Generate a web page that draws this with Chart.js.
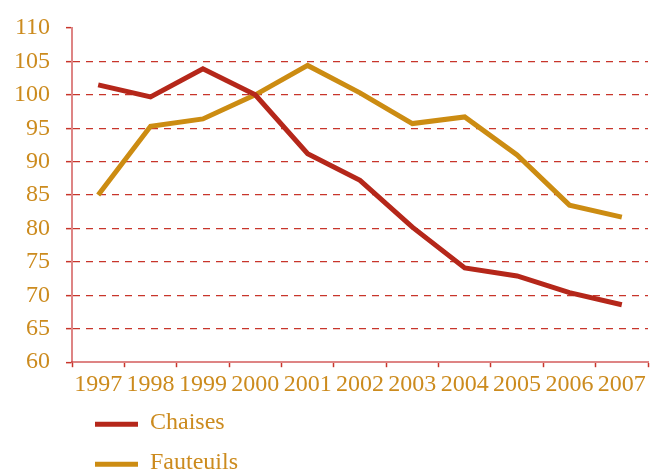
<!DOCTYPE html>
<html lang="fr">
<head>
    <meta charset="UTF-8">
    <title>Chaises et fauteuils</title>
    <script src="https://cdn.jsdelivr.net/npm/chart.js"></script>
    <style>
        html, body { margin: 0; padding: 0; background: #fff; }
        #wrap { width: 656px; height: 472px; }
    </style>
</head>
<body>
    <div id="wrap"><canvas id="chart" width="656" height="472"></canvas></div>

    <script>
        // data
        var years = ['1997', '1998', '1999', '2000', '2001', '2002', '2003', '2004', '2005', '2006', '2007'];
        var chaises = [101.5, 99.7, 103.9, 100.0, 91.2, 87.2, 80.2, 74.1, 72.9, 70.4, 68.6];
        var fauteuils = [85.0, 95.3, 96.4, 100.0, 104.4, 100.3, 95.7, 96.7, 91.0, 83.5, 81.7];
        var yMin = 60, yMax = 110, yStep = 5;

        var gold = '#cc8b1e';
        var red = '#c8352b';
        var axisRed = 'rgba(200, 50, 50, 0.6)';
        var fontFamily = '"Liberation Serif", "Times New Roman", serif';

        // legend stacked below the axis, drawn by hand
        var stackedLegend = {
            id: 'stackedLegend',
            afterDraw: function(chart) {
                var ctx = chart.ctx;
                var area = chart.chartArea;
                ctx.save();
                ctx.font = '24px ' + fontFamily;
                ctx.textBaseline = 'middle';
                chart.data.datasets.forEach(function(ds, i) {
                    var y = area.bottom + 62 + i * 40;
                    var x = area.left + 23;
                    ctx.strokeStyle = ds.borderColor;
                    ctx.lineWidth = 5;
                    ctx.beginPath();
                    ctx.moveTo(x, y);
                    ctx.lineTo(x + 43, y);
                    ctx.stroke();
                    ctx.fillStyle = gold;
                    ctx.fillText(ds.label, x + 55, y - 1);
                });
                ctx.restore();
            }
        };

        var ctx = document.getElementById('chart').getContext('2d');
        var myChart = new Chart(ctx, {
            type: 'line',
            data: {
                labels: years,
                datasets: [{
                    label: 'Chaises',
                    data: chaises,
                    borderColor: '#b5271a',
                    borderWidth: 5,
                    pointRadius: 0,
                    tension: 0,
                    fill: false
                }, {
                    label: 'Fauteuils',
                    data: fauteuils,
                    borderColor: '#cc8c12',
                    borderWidth: 5,
                    pointRadius: 0,
                    tension: 0,
                    fill: false
                }]
            },
            options: {
                responsive: false,
                animation: false,
                layout: { padding: { left: 0, top: 28, right: 8, bottom: 70 } },
                plugins: {
                    legend: { display: false },
                    tooltip: { enabled: false }
                },
                scales: {
                    x: {
                        offset: true,
                        grid: {
                            offset: true,
                            drawOnChartArea: false,
                            tickLength: 5,
                            tickColor: red,
                            tickWidth: 1.5
                        },
                        border: { color: axisRed, width: 2 },
                        ticks: {
                            color: gold,
                            padding: 3,
                            maxRotation: 0,
                            autoSkip: false,
                            font: { family: fontFamily, size: 24 }
                        }
                    },
                    y: {
                        min: yMin,
                        max: yMax,
                        afterFit: function(scale) {
                            scale.width = 72;
                            scale.paddingTop = 0;
                        },
                        grid: {
                            color: function(c) {
                                var v = c.tick && c.tick.value;
                                return (v === yMin || v === yMax) ? 'rgba(0,0,0,0)' : red;
                            },
                            lineWidth: 1.3,
                            tickLength: 6,
                            tickColor: red,
                            tickWidth: 1.5
                        },
                        border: { color: axisRed, width: 2, dash: [7, 6] },
                        ticks: {
                            stepSize: yStep,
                            color: gold,
                            padding: 16,
                            font: { family: fontFamily, size: 24 }
                        }
                    }
                }
            },
            plugins: [stackedLegend]
        });
    </script>
</body>
</html>
